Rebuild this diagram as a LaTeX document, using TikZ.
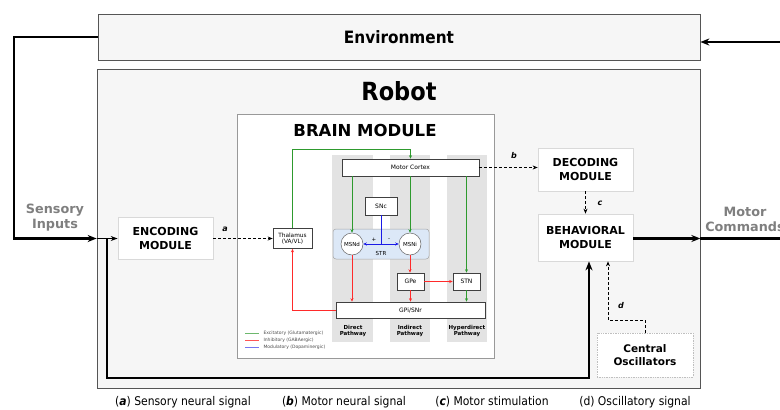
\documentclass[tikz,border=0pt]{standalone}
\usepackage{fontspec}
\setmainfont{DejaVu Sans}
\newfontfamily\condfont{DejaVu Sans Condensed}
\usetikzlibrary{arrows.meta,calc}
\definecolor{bordgray}{HTML}{555555}
\definecolor{lightfill}{HTML}{F6F6F6}
\definecolor{bandgray}{HTML}{E3E3E3}
\definecolor{excgreen}{HTML}{2E9A2E}
\definecolor{inhred}{HTML}{FF2A2A}
\definecolor{modblue}{HTML}{1A1AE6}
\definecolor{strblue}{HTML}{DCE8F7}
\definecolor{txtgray}{HTML}{7F7F7F}
\begin{document}
\begin{tikzpicture}[x=1pt,y=-1pt,
  modbox/.style={draw=black!15, fill=white, line width=0.7pt, align=center, inner sep=0,
    font=\bfseries\fontsize{11}{13.5}\selectfont},
  bbox/.style={draw=black!75, fill=white, line width=0.6pt, inner sep=0, align=center,
    font=\fontsize{6}{7}\selectfont},
  circbox/.style={circle, draw=black!60, fill=white, line width=0.5pt, inner sep=0,
    minimum size=22pt, font=\fontsize{5.5}{6}\selectfont},
  exc/.style={draw=excgreen, line width=0.9pt, -{Stealth[length=3.5pt,width=3pt]}},
  inh/.style={draw=inhred, line width=0.9pt, -{Stealth[length=3.5pt,width=3pt]}},
  dsh/.style={draw=black, line width=1pt, dash pattern=on 3pt off 2pt, -{Stealth[length=5pt,width=4pt]}},
  loopl/.style={draw=black, line width=2.3pt},
  bigtip/.style={-{Stealth[length=9pt,width=7pt]}},
  lbl/.style={font=\bfseries\itshape\fontsize{8}{9}\selectfont},
  pathlbl/.style={font=\bfseries\fontsize{5.5}{6.5}\selectfont, align=center},
  leg/.style={font=\fontsize{4.5}{5}\selectfont, anchor=west, text=black!70},
  sidetxt/.style={font=\bfseries\fontsize{12.8}{15}\selectfont, text=txtgray, align=center},
  captxt/.style={font=\condfont\fontsize{12}{14}\selectfont}
]
\useasboundingbox (0,0) rectangle (780,410);
% Environment and Robot
\node[draw=bordgray, fill=lightfill, line width=0.7pt, minimum width=602pt, minimum height=46pt,
  inner sep=0, font=\condfont\bfseries\fontsize{17}{20}\selectfont] (env) at (399,37) {Environment};
\node[draw=bordgray, fill=lightfill, line width=0.7pt, minimum width=603pt, minimum height=319pt,
  inner sep=0] (robot) at (398.5,228.5) {};
\node[font=\condfont\bfseries\fontsize{25}{28}\selectfont] (robott) at (399,91) {Robot};
% Brain module
\node[draw=black!40, fill=white, line width=0.6pt, minimum width=257pt, minimum height=244pt,
  inner sep=0] (brain) at (365.5,236) {};
\node[font=\bfseries\fontsize{16.5}{19}\selectfont] (braint) at (365,130) {BRAIN MODULE};
% pathway bands
\fill[bandgray] (332,155) rectangle (373,342);
\fill[bandgray] (390,155) rectangle (430,342);
\fill[bandgray] (447,155) rectangle (487,342);
% STR
\node[draw=black!35, fill=strblue, rounded corners=3pt, line width=0.5pt, minimum width=96pt,
  minimum height=30pt, inner sep=0] (str) at (381,244) {};
\node[font=\fontsize{5.5}{6}\selectfont] (strt) at (381,253.5) {STR};
% brain boxes
\node[bbox, minimum width=137pt, minimum height=17pt] (mc) at (410.5,167.5) {Motor Cortex};
\node[bbox, minimum width=39pt, minimum height=20pt, font=\fontsize{5.8}{6.5}\selectfont] (thal) at (292.5,238.5) {Thalamus\\(VA/VL)};
\node[bbox, minimum width=32pt, minimum height=18pt] (snc) at (381,206) {SNc};
\node[circbox] (msnd) at (352,244) {MSNd};
\node[circbox] (msni) at (410,244) {MSNi};
\node[bbox, minimum width=27pt, minimum height=17pt] (gpe) at (410.5,281.5) {GPe};
\node[bbox, minimum width=27pt, minimum height=17pt] (stn) at (466.5,281.5) {STN};
\node[bbox, minimum width=149pt, minimum height=16pt] (gpi) at (410.5,310) {GPi/SNr};
% brain connectors
\draw[exc] (thal.north) -- (thal.north |- 0,149) -| (mc.north);
\draw[exc] (mc.south -| msnd) -- (msnd.north);
\draw[exc] (mc.south -| msni) -- (msni.north);
\draw[exc] (mc.south -| stn) -- (stn.north);
\draw[exc] (stn.south) -- (stn.south |- gpi.north);
\draw[inh] (msnd.south) -- (msnd.south |- gpi.north);
\draw[inh] (msni.south) -- (msni.south |- gpe.north);
\draw[inh] (gpe.east) -- (stn.west);
\draw[inh] (gpe.south) -- (gpe.south |- gpi.north);
\draw[inh] (gpi.west) -| (thal.south);
\draw[modblue, line width=0.9pt] (snc.south) -- (snc.south |- msnd);
\draw[modblue, line width=0.9pt, {Stealth[length=3.5pt,width=3pt]}-{Stealth[length=3.5pt,width=3pt]}] (msnd.east) -- (msni.west);
\node[font=\fontsize{5.5}{6}\selectfont] (plus) at (374,240) {+};
\node[font=\fontsize{5.5}{6}\selectfont] (minus) at (389,240) {-};
% pathway labels
\node[pathlbl] (pd) at (353,331) {Direct\\Pathway};
\node[pathlbl] (pi) at (410,331) {Indirect\\Pathway};
\node[pathlbl] (ph) at (467,331) {Hyperdirect\\Pathway};
% legend
\draw[excgreen!70, line width=0.8pt] (245,333) -- (259,333);
\draw[inhred!80, line width=0.8pt] (245,340) -- (259,340);
\draw[modblue!60, line width=0.8pt] (245,347) -- (259,347);
\node[leg] (l1) at (260,333) {Excitatory (Glutamatergic)};
\node[leg] (l2) at (260,340) {Inhibitory (GABAergic)};
\node[leg] (l3) at (260,347) {Modulatory (Dopaminergic)};
% outer modules
\node[modbox, minimum width=95pt, minimum height=42pt] (enc) at (165.5,238.5) {ENCODING\\MODULE};
\node[modbox, minimum width=95pt, minimum height=43pt] (dec) at (585.5,169.5) {DECODING\\MODULE};
\node[modbox, minimum width=95pt, minimum height=47pt] (beh) at (585.5,237.5) {BEHAVIORAL\\MODULE};
\node[modbox, draw=black!25, densely dotted, minimum width=96pt, minimum height=44pt,
  font=\bfseries\fontsize{10.5}{13.5}\selectfont] (osc) at (645,355) {Central\\Oscillators};
% signal arrows
\draw[dsh] (enc.east) -- (thal.west);
\draw[dsh] (mc.east) -- (mc.east -| dec.west);
\draw[dsh] (dec.south) -- (beh.north);
\draw[dsh] (osc.north) -- (osc.north |- 0,320) -| ([xshift=22.5pt]beh.south);
\node[lbl] (la) at (225,229) {a};
\node[lbl] (lb) at (514,156) {b};
\node[lbl] (lc) at (600,203) {c};
\node[lbl] (ld) at (621,306) {d};
% loops
\coordinate (inl) at (robot.west |- enc.west);
\coordinate (farl) at (14,238.5);
\coordinate (junc) at (107,238.5);
\coordinate (outr) at (780,238.5);
\coordinate (envr) at (780,42);
\draw[loopl, bigtip] (env.west) -| (farl) -- (inl);
\draw[black, line width=1.3pt, -{Stealth[length=7pt,width=5pt]}] (inl) -- (enc.west);
\draw[loopl, bigtip] (junc) -- (107,378) -| ([xshift=3.5pt]beh.south);
\draw[loopl, bigtip] (beh.east |- outr) -- (robot.east |- outr);
\draw[loopl] (robot.east |- outr) -- (outr);
\draw[loopl, bigtip] (envr) -- (env.east |- envr);
\node[sidetxt] (sens) at (55,218) {Sensory\\Inputs};
\node[sidetxt] (motc) at (745,219) {Motor\\Commands};
% caption
\node[captxt] (ca) at (183,402) {(\textbf{\textit{a}}) Sensory neural signal};
\node[captxt] (cb) at (344,402) {(\textbf{\textit{b}}) Motor neural signal};
\node[captxt] (cc) at (492,402) {(\textbf{\textit{c}}) Motor stimulation};
\node[captxt] (cd) at (635,402) {(d) Oscillatory signal};
\end{tikzpicture}
\end{document}
